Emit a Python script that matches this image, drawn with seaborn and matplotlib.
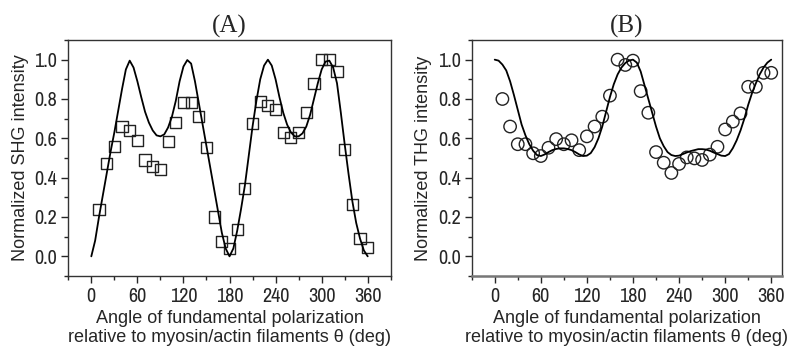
import matplotlib
matplotlib.use("Agg")
import matplotlib.pyplot as plt
from matplotlib import font_manager
from matplotlib.ticker import MultipleLocator, FormatStrFormatter
import seaborn as sns

# measured points (every 10 deg)
angle_data = [10, 20, 30, 40, 50, 60, 70, 80, 90, 100, 110, 120,
              130, 140, 150, 160, 170, 180, 190, 200, 210, 220, 230, 240,
              250, 260, 270, 280, 290, 300, 310, 320, 330, 340, 350, 360]
shg_data = [0.24, 0.47, 0.56, 0.66, 0.64, 0.59, 0.49, 0.455, 0.44, 0.584, 0.68, 0.78,
            0.78, 0.71, 0.555, 0.20, 0.077, 0.04, 0.136, 0.347, 0.677, 0.785, 0.766, 0.747,
            0.63, 0.606, 0.63, 0.73, 0.88, 1.0, 1.0, 0.94, 0.544, 0.264, 0.09, 0.044]
thg_data = [0.80, 0.66, 0.57, 0.57, 0.524, 0.51, 0.552, 0.596, 0.57, 0.59, 0.54, 0.61,
            0.66, 0.71, 0.817, 1.0, 0.973, 0.995, 0.84, 0.73, 0.53, 0.476, 0.424, 0.47,
            0.503, 0.498, 0.49, 0.517, 0.557, 0.645, 0.685, 0.727, 0.862, 0.862, 0.933, 0.933]

# model curves (every 5 deg)
curve_angle = [0, 5, 10, 15, 20, 25, 30, 35, 40, 45, 50, 55, 60, 65, 70, 75, 80, 85, 90,
               95, 100, 105, 110, 115, 120, 125, 130, 135, 140, 145, 150, 155, 160, 165, 170, 175, 180,
               185, 190, 195, 200, 205, 210, 215, 220, 225, 230, 235, 240, 245, 250, 255, 260, 265, 270,
               275, 280, 285, 290, 295, 300, 305, 310, 315, 320, 325, 330, 335, 340, 345, 350, 355, 360]
shg_fit = [0.0, 0.08, 0.2, 0.31, 0.42, 0.53, 0.63, 0.74, 0.85, 0.95, 0.995, 0.96, 0.89, 0.81, 0.735, 0.68, 0.64, 0.615, 0.61,
           0.62, 0.655, 0.71, 0.79, 0.89, 0.965, 0.998, 0.98, 0.89, 0.78, 0.67, 0.56, 0.45, 0.34, 0.23, 0.12, 0.04, 0.0,
           0.04, 0.13, 0.24, 0.36, 0.51, 0.66, 0.79, 0.9, 0.97, 1.0, 0.97, 0.9, 0.81, 0.73, 0.67, 0.63, 0.61, 0.61,
           0.625, 0.66, 0.72, 0.8, 0.88, 0.95, 0.99, 0.995, 0.96, 0.88, 0.73, 0.57, 0.42, 0.28, 0.17, 0.09, 0.03, 0.0]
thg_fit = [1.0, 0.995, 0.975, 0.945, 0.89, 0.82, 0.745, 0.67, 0.615, 0.57, 0.537, 0.515, 0.51, 0.518, 0.53, 0.54, 0.546, 0.549, 0.549,
           0.546, 0.54, 0.53, 0.518, 0.51, 0.512, 0.525, 0.555, 0.6, 0.66, 0.735, 0.81, 0.875, 0.925, 0.96, 0.983, 0.996, 1.0,
           0.985, 0.94, 0.87, 0.80, 0.73, 0.66, 0.60, 0.56, 0.53, 0.515, 0.51, 0.512, 0.52, 0.528, 0.535, 0.54, 0.545, 0.545,
           0.543, 0.537, 0.528, 0.52, 0.512, 0.51, 0.52, 0.55, 0.59, 0.64, 0.70, 0.77, 0.83, 0.88, 0.925, 0.96, 0.985, 1.0]

panel_titles = ["(A)", "(B)"]
y_labels = ["Normalized SHG intensity", "Normalized THG intensity"]
x_label = "Angle of fundamental polarization\nrelative to myosin/actin filaments \u03b8 (deg)"

sns.set_style("ticks")
plt.rcParams["font.family"] = ["Liberation Sans", "DejaVu Sans"]

# tick numbers in the original use a narrow sans; pick a regular-weight one if installed
narrow = None
for f in font_manager.fontManager.ttflist:
    if ("Narrow" in f.name or "Condensed" in f.name) and f.style == "normal" \
            and f.weight in (400, 500, "normal", "regular", "medium"):
        narrow = f.name
        break
tick_family = [narrow, "Liberation Sans"] if narrow else ["Liberation Sans"]

fig = plt.figure(figsize=(8.07, 3.52), dpi=100)
ax_a = fig.add_axes([0.0846, 0.2159, 0.3996, 0.6705])
ax_b = fig.add_axes([0.5845, 0.2159, 0.3845, 0.6705])

sns.lineplot(x=curve_angle, y=shg_fit, color="black", linewidth=1.3, ax=ax_a)
sns.scatterplot(x=angle_data, y=shg_data, marker="s", s=64, facecolors="none",
                edgecolor="#222222", linewidth=1.0, ax=ax_a)

sns.lineplot(x=curve_angle, y=thg_fit, color="black", linewidth=1.3, ax=ax_b)
sns.scatterplot(x=angle_data, y=thg_data, marker="o", s=80, facecolors="none",
                edgecolor="#222222", linewidth=1.0, ax=ax_b)

for ax, title, ylab, xmax in zip([ax_a, ax_b], panel_titles, y_labels, [390, 374]):
    ax.set_xlim(-30, xmax)
    ax.set_ylim(-0.1, 1.1)
    ax.xaxis.set_major_locator(MultipleLocator(60))
    ax.xaxis.set_minor_locator(MultipleLocator(30))
    ax.yaxis.set_major_locator(MultipleLocator(0.2))
    ax.yaxis.set_minor_locator(MultipleLocator(0.1))
    ax.yaxis.set_major_formatter(FormatStrFormatter("%.1f"))
    ax.tick_params(which="major", direction="out", length=5, width=1, labelsize=14.5, pad=3)
    ax.tick_params(which="minor", direction="out", length=3, width=1)
    ax.tick_params(top=False, right=False)
    for lab in ax.get_xticklabels() + ax.get_yticklabels():
        lab.set_family(tick_family)
    for sp in ax.spines.values():
        sp.set_visible(True)
        sp.set_color("#333333")
        sp.set_linewidth(1.0)
    ax.set_title(title, family="Liberation Serif", fontsize=18, pad=5)
    ax.set_ylabel(ylab, fontsize=13, labelpad=4)
    ax.set_xlabel(x_label, fontsize=13, labelpad=3, linespacing=1.15)

ax_b.spines["bottom"].set_color("#777777")
ax_b.spines["bottom"].set_linewidth(1.8)

fig.savefig("out.png", dpi=100)
